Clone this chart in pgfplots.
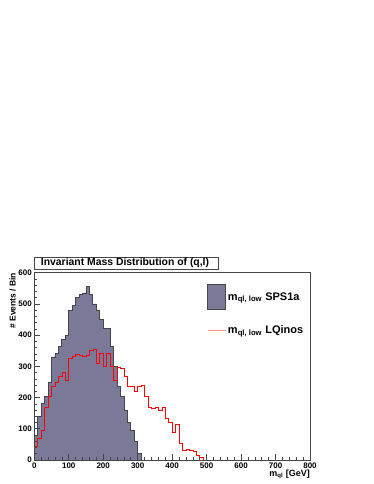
\documentclass[border=0pt]{standalone}
\usepackage{fontspec}
\setmainfont{Liberation Sans}
\usepackage{pgfplots}
\pgfplotsset{compat=1.18}
\definecolor{histfill}{RGB}{122,122,152}
\definecolor{framegray}{RGB}{70,70,70}
\begin{document}
\begin{tikzpicture}
\path[use as bounding box] (0pt,0pt) rectangle (374pt,484pt);
% title box
\draw[framegray, line width=0.7pt, fill=white] (34.3pt,214.7pt) rectangle (218pt,226.7pt);
\node[font=\bfseries\fontsize{10.4}{11}\selectfont, anchor=center, inner sep=0pt]
  at (125pt,220.7pt) {Invariant Mass Distribution of (q,l)};
\begin{axis}[
    at={(34.3pt,24pt)}, anchor=south west,
    scale only axis,
    width=275.7pt, height=187.3pt,
    xmin=0, xmax=800,
    ymin=0, ymax=600,
    xtick={0,100,...,800},
    ytick={0,100,...,600},
    minor tick num=4,
    tick align=inside,
    xtick pos=bottom, ytick pos=left,
    major tick length=6pt, minor tick length=3pt,
    axis on top,
    axis line style={framegray, line width=0.8pt},
    every tick/.style={framegray, line width=0.6pt},
    tick label style={font=\bfseries\fontsize{8}{9}\selectfont},
    /pgf/number format/assume math mode=true,
    xticklabel style={yshift=1pt},
    yticklabel style={xshift=1pt},
    xlabel={m\textsubscript{ql} [GeV]},
    xlabel style={at={(rel axis cs:1,0)}, anchor=north east, yshift=-10pt,
                  font=\bfseries\fontsize{9}{10}\selectfont, inner sep=0pt},
    ylabel={\# Events / Bin},
    ylabel style={at={(axis description cs:-0.066,1)}, anchor=south east,
                  font=\bfseries\fontsize{8.5}{9}\selectfont, inner sep=0pt},
    legend style={draw=none, fill=none, at={(rel axis cs:0.626,0.94)}, anchor=north west,
                  font=\bfseries\fontsize{11}{12}\selectfont, row sep=14pt,
                  inner sep=0pt, cells={anchor=west}},
    legend cell align=left,
]
\addplot[const plot, fill=histfill, draw=framegray, line width=0.8pt,
    legend image code/.code={\draw[fill=histfill, draw=framegray, line width=0.8pt]
        (0pt,-12.5pt) rectangle (18pt,12.5pt);}]
coordinates {
(0,80)(10,140)(20,180)(30,205)(40,250)(50,330)(60,340)(70,365)(80,385)(90,400)
(100,480)(110,495)(120,520)(130,530)(140,535)(150,555)(160,530)(170,500)(180,480)(190,450)
(200,420)(210,420)(220,365)(230,300)(240,235)(250,205)(260,160)(270,120)(280,95)(290,60)
(300,20)(310,0)
} \closedcycle;
\addlegendentry{m\textsubscript{ql, low} SPS1a}
\addplot[const plot, red, line width=0.6pt,
    legend image code/.code={\draw[red!45, line width=0.9pt] (0pt,0pt) -- (18pt,0pt);}]
coordinates {
(0,43)(10,70)(20,96)(30,169)(40,203)(50,235)(60,250)(70,267)(80,280)(90,254)
(100,325)(110,333)(120,339)(130,336)(140,333)(150,336)(160,352)(170,354)(180,310)(190,342)
(200,299)(210,342)(220,300)(230,256)(240,297)(250,294)(260,267)(270,237)(280,235)(290,219)
(300,237)(310,240)(320,205)(330,170)(340,165)(350,170)(360,160)(370,170)(380,135)(390,120)
(400,88)(410,115)(420,55)(430,30)(440,35)(450,30)(460,28)(470,15)(480,8)(490,0)
(800,0)
};
\addlegendentry{m\textsubscript{ql, low} LQinos}
\end{axis}
\end{tikzpicture}
\end{document}
